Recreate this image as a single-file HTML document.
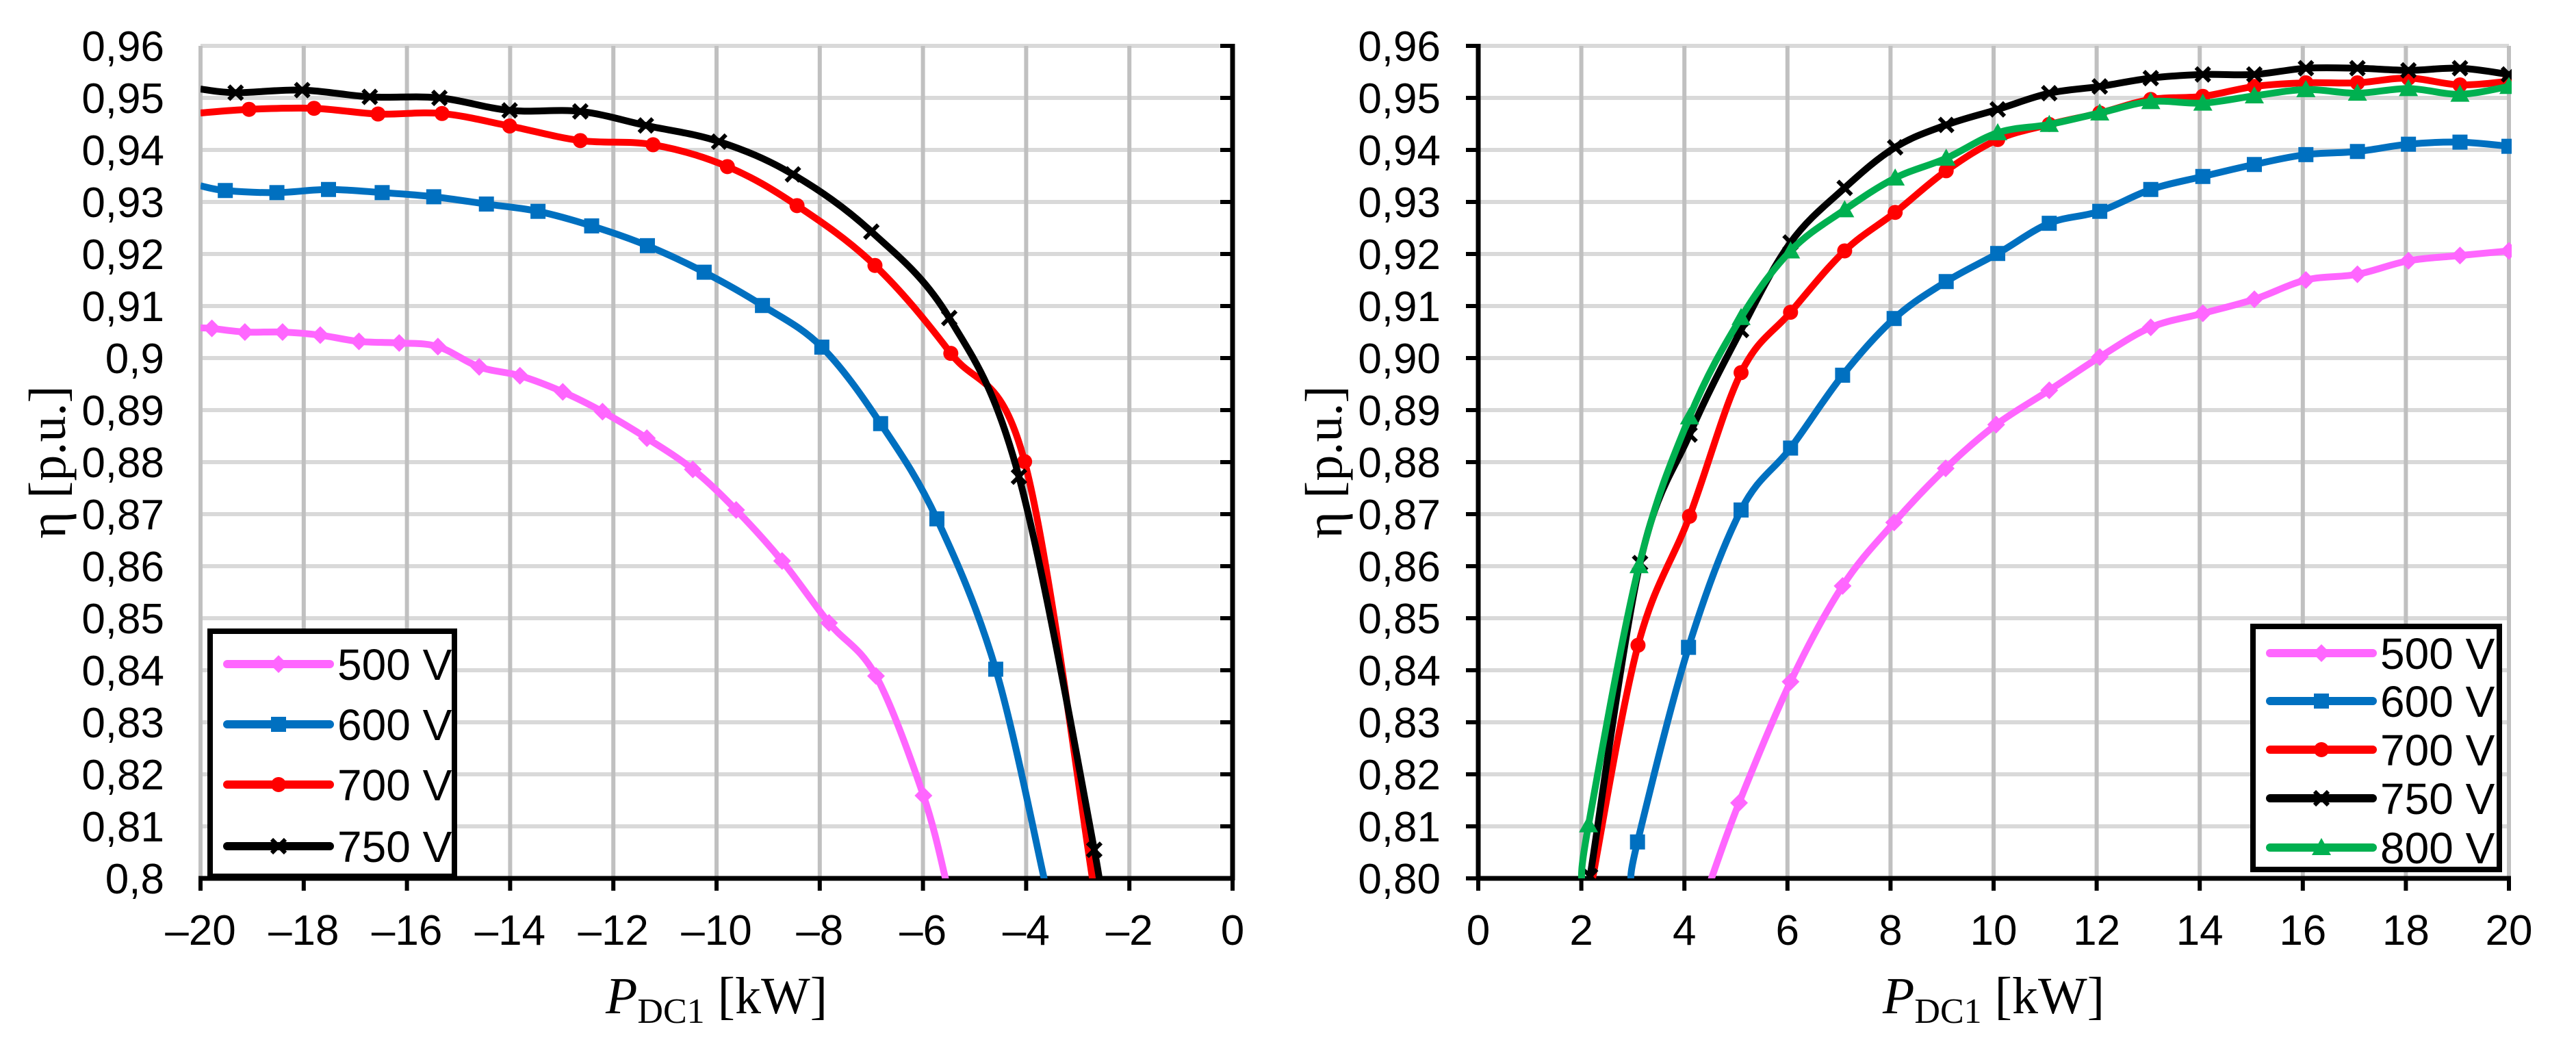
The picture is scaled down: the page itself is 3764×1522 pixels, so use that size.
<!DOCTYPE html>
<html><head><meta charset="utf-8"><style>
html,body{margin:0;padding:0;background:#fff;}
svg{display:block;}
</style></head><body>
<svg id="chart" width="3764" height="1522" viewBox="0 0 3764 1522" xmlns="http://www.w3.org/2000/svg">
<defs>
<clipPath id="clipL"><rect x="293" y="60" width="1508" height="1223"/></clipPath>
<clipPath id="clipR"><rect x="2160" y="60" width="1510" height="1223"/></clipPath>
</defs>
<g id="left"></g>
<g id="right"></g>
</svg>
<script>
// ---- data: left chart (reverse power) ----
const leftXTicks = [-20,-18,-16,-14,-12,-10,-8,-6,-4,-2,0];
const leftYTickLabels = ["0,96","0,95","0,94","0,93","0,92","0,91","0,9","0,89","0,88","0,87","0,86","0,85","0,84","0,83","0,82","0,81","0,8"];
const L500x = [-20,-19.78,-19.14,-18.41,-17.68,-16.93,-16.15,-15.40,-14.60,-13.81,-12.98,-12.21,-11.35,-10.46,-9.62,-8.73,-7.82,-6.91,-5.99,-5.54];
const L500y = [0.9058,0.9057,0.9050,0.9050,0.9044,0.9032,0.9029,0.9022,0.8983,0.8966,0.8935,0.8897,0.8846,0.8786,0.8708,0.8610,0.8491,0.8389,0.8159,0.799];
const L600x = [-20,-19.52,-18.52,-17.52,-16.48,-15.48,-14.46,-13.46,-12.42,-11.34,-10.24,-9.11,-7.96,-6.82,-5.73,-4.59,-3.63];
const L600y = [0.9331,0.9322,0.9318,0.9324,0.9318,0.9310,0.9296,0.9282,0.9254,0.9216,0.9165,0.9101,0.9021,0.8874,0.8691,0.8402,0.799];
const L700x = [-20,-19.06,-17.80,-16.56,-15.32,-14.01,-12.64,-11.23,-9.79,-8.44,-6.93,-5.46,-4.03,-2.70];
const L700y = [0.9471,0.9478,0.9480,0.9469,0.9470,0.9446,0.9418,0.9410,0.9368,0.9293,0.9178,0.9009,0.8801,0.799];
const L750x = [-20,-19.32,-18.03,-16.72,-15.37,-14.01,-12.64,-11.37,-9.95,-8.52,-7.0,-5.49,-4.14,-2.68,-2.64];
const L750y = [0.9517,0.9510,0.9515,0.9502,0.9500,0.9476,0.9474,0.9447,0.9416,0.9353,0.9243,0.9077,0.8772,0.8055,0.798];
// ---- data: right chart (forward power) ----
const rightXTicks = [0,2,4,6,8,10,12,14,16,18,20];
const rightYTickLabels = ["0,96","0,95","0,94","0,93","0,92","0,91","0,90","0,89","0,88","0,87","0,86","0,85","0,84","0,83","0,82","0,81","0,80"];
const R500x = [4.49,5.06,6.06,7.07,8.07,9.07,10.05,11.08,12.06,13.05,14.06,15.06,16.06,17.06,18.05,19.05,20];
const R500y = [0.799,0.8145,0.8378,0.8562,0.8684,0.8788,0.8872,0.8938,0.9002,0.9059,0.9086,0.9113,0.9150,0.9161,0.9187,0.9197,0.9206];
const R600x = [2.96,3.09,4.08,5.1,6.06,7.07,8.07,9.08,10.08,11.08,12.06,13.05,14.06,15.06,16.06,17.06,18.05,19.05,20];
const R600y = [0.799,0.8070,0.8444,0.8708,0.8827,0.8967,0.9076,0.9147,0.9201,0.9259,0.9282,0.9324,0.9349,0.9372,0.9391,0.9397,0.9411,0.9415,0.9407];
const R700x = [2.2,3.1,4.1,5.1,6.06,7.11,8.09,9.08,10.08,11.08,12.06,13.05,14.06,15.06,16.06,17.06,18.05,19.05,20];
const R700y = [0.799,0.8448,0.8696,0.8972,0.9088,0.9206,0.9280,0.9360,0.9420,0.9449,0.9471,0.9497,0.9503,0.9522,0.9529,0.9529,0.9538,0.9525,0.9532];
const R750x = [2.12,2.17,3.14,4.10,5.10,6.06,7.11,8.09,9.08,10.08,11.08,12.06,13.05,14.06,15.06,16.06,17.06,18.05,19.05,20];
const R750y = [0.799,0.8004,0.8606,0.8853,0.9054,0.9222,0.9327,0.9405,0.9448,0.9478,0.9509,0.9522,0.9538,0.9545,0.9545,0.9557,0.9557,0.9553,0.9557,0.9545];
const R800x = [2.0,2.14,3.12,4.1,5.1,6.06,7.11,8.09,9.08,10.08,11.08,12.06,13.05,14.06,15.06,16.06,17.06,18.05,19.05,20];
const R800y = [0.799,0.8103,0.8601,0.8887,0.9078,0.9206,0.9285,0.9346,0.9384,0.9433,0.9449,0.9471,0.9493,0.9490,0.9504,0.9516,0.9509,0.9518,0.9507,0.9522];

const NS = "http://www.w3.org/2000/svg";
const Y0 = 1283, Y1 = 67;
function yScale(v){ return Y0 - (v - 0.80) / 0.16 * (Y0 - Y1); }
function xL(v){ return 293 + (v + 20) / 20 * 1508; }
function xR(v){ return 2160 + v / 20 * 1506; }
function mk(tag, attrs, parent){
  const e = document.createElementNS(NS, tag);
  for (const k in attrs) e.setAttribute(k, attrs[k]);
  parent.appendChild(e);
  return e;
}
function smoothPath(pts){
  let d = "M" + pts[0][0] + "," + pts[0][1];
  for (let i = 0; i < pts.length - 1; i++){
    const p0 = pts[i-1] || pts[i], p1 = pts[i], p2 = pts[i+1], p3 = pts[i+2] || pts[i+1];
    const t = 0.17;
    const c1x = p1[0] + (p2[0]-p0[0])*t, c1y = p1[1] + (p2[1]-p0[1])*t;
    const c2x = p2[0] - (p3[0]-p1[0])*t, c2y = p2[1] - (p3[1]-p1[1])*t;
    d += " C" + c1x + "," + c1y + " " + c2x + "," + c2y + " " + p2[0] + "," + p2[1];
  }
  return d;
}
function marker(g, type, x, y, color){
  let e;
  if (type === "diamond"){
    e = mk("polygon", {points:(x)+","+(y-13)+" "+(x+13)+","+y+" "+x+","+(y+13)+" "+(x-13)+","+y, fill:color}, g);
  } else if (type === "square"){
    e = mk("rect", {x:x-11, y:y-11, width:22, height:22, fill:color}, g);
  } else if (type === "circle"){
    e = mk("circle", {cx:x, cy:y, r:11, fill:color}, g);
  } else if (type === "cross"){
    e = mk("path", {d:"M"+(x-10)+","+(y-10)+"L"+(x+10)+","+(y+10)+"M"+(x+10)+","+(y-10)+"L"+(x-10)+","+(y+10), stroke:color, "stroke-width":6, fill:"none"}, g);
  } else {
    e = mk("polygon", {points:x+","+(y-14)+" "+(x+14)+","+(y+11)+" "+(x-14)+","+(y+11), fill:color}, g);
  }
  
  
}
function drawSeries(parent, clip, xs, ys, xf, color, type, name, skipFirst){
  const g = mk("g", {"clip-path":"url(#"+clip+")"}, parent);
  
  
  const pts = xs.map((v,i)=>[xf(v), yScale(ys[i])]);
  const p = mk("path", {d:smoothPath(pts), stroke:color, "stroke-width":10, fill:"none", "stroke-linejoin":"round"}, g);
  
  
  pts.forEach((pt,i)=>{
    if (ys[i] <= 0.8001) return;
    if (skipFirst && i === 0) return;
    marker(g, type, pt[0], pt[1], color);
  });
}
function drawAxes(g, xf, xTicks, yLabels, left, right, isLeft){
  for (let i = 0; i < yLabels.length; i++){
    const y = yScale(0.96 - i*0.01);
    const l = mk("line", {x1:left, x2:right, y1:y, y2:y, stroke:"#D9D9D9", "stroke-width":6}, g);
    
    
  }
  xTicks.forEach(v=>{
    const x = xf(v);
    const l = mk("line", {x1:x, x2:x, y1:Y1, y2:Y0, stroke:"#C0C0C0", "stroke-width":6}, g);
    
    
  });
  const ax = isLeft ? right : left;
  const ya = mk("line", {x1:ax, x2:ax, y1:Y1-3, y2:Y0+3, stroke:"#000", "stroke-width":7}, g);
  
  
  for (let i = 0; i < yLabels.length; i++){
    const y = yScale(0.96 - i*0.01);
    const t = mk("line", {x1:ax-18, x2:ax, y1:y, y2:y, stroke:"#000", "stroke-width":6}, g);
    
    
    const lab = mk("text", {x: isLeft ? 240 : left-55, y:y+22, "text-anchor":"end", "font-size":62, "font-family":"Liberation Sans, Arial, sans-serif"}, g);
    lab.textContent = yLabels[i];
    
    
  }
  const xa = mk("line", {x1:left-3, x2:right+3, y1:Y0, y2:Y0, stroke:"#000", "stroke-width":7}, g);
  
  
  xTicks.forEach(v=>{
    const x = xf(v);
    const t = mk("line", {x1:x, x2:x, y1:Y0, y2:Y0+18, stroke:"#000", "stroke-width":6}, g);
    
    
    const lab = mk("text", {x:x, y:1380, "text-anchor":"middle", "font-size":62, "font-family":"Liberation Sans, Arial, sans-serif"}, g);
    lab.textContent = v < 0 ? "\u2013" + Math.abs(v) : String(v);
    
    
  });
  const cx = (left+right)/2;
  const xt = mk("text", {x:cx, y:1480, "text-anchor":"middle", "font-size":76, "font-family":"Liberation Serif, Times New Roman, serif"}, g);
  xt.innerHTML = '<tspan font-style="italic">P</tspan><tspan font-size="52" dy="14">DC1</tspan><tspan dy="-14"> [kW]</tspan>';
  
  
  const tx = isLeft ? 95 : 1960;
  const yt = mk("text", {x:tx, y:675, "text-anchor":"middle", "font-size":76, "font-family":"Liberation Serif, DejaVu Serif, serif", transform:"rotate(-90 "+tx+" 675)"}, g);
  yt.textContent = "\u03B7 [p.u.]";
  
  
}
function drawLegend(g, x, y, w, h, entries, rowY){
  const r = mk("rect", {x:x, y:y, width:w, height:h, fill:"#fff", stroke:"#000", "stroke-width":8}, g);
  
  
  entries.forEach((e,i)=>{
    const lg = mk("g", {}, g);
    
    
    const yy = rowY[i];
    mk("line", {x1:x+25, x2:x+175, y1:yy, y2:yy, stroke:e[1], "stroke-width":12, "stroke-linecap":"round"}, lg);
    marker(lg, e[2], x+100, yy, e[1]);
    const t = mk("text", {x:x+186, y:yy+23, "font-size":64, "font-family":"Liberation Sans, Arial, sans-serif"}, lg);
    t.textContent = e[0];
  });
}
const gl = document.getElementById("left"), gr = document.getElementById("right");
drawAxes(gl, xL, leftXTicks, leftYTickLabels, 293, 1801, true);
drawSeries(gl, "clipL", L500x, L500y, xL, "#FF66FF", "diamond", "series-500v", true);
drawSeries(gl, "clipL", L600x, L600y, xL, "#0070C0", "square", "series-600v", true);
drawSeries(gl, "clipL", L700x, L700y, xL, "#FF0000", "circle", "series-700v", true);
drawSeries(gl, "clipL", L750x, L750y, xL, "#000000", "cross", "series-750v", true);
drawLegend(gl, 307, 922, 357, 358, [["500 V","#FF66FF","diamond"],["600 V","#0070C0","square"],["700 V","#FF0000","circle"],["750 V","#000000","cross"]], [970,1058,1146,1236]);

drawAxes(gr, xR, rightXTicks, rightYTickLabels, 2160, 3666, false);
drawSeries(gr, "clipR", R500x, R500y, xR, "#FF66FF", "diamond", "series-500v", false);
drawSeries(gr, "clipR", R600x, R600y, xR, "#0070C0", "square", "series-600v", false);
drawSeries(gr, "clipR", R700x, R700y, xR, "#FF0000", "circle", "series-700v", false);
drawSeries(gr, "clipR", R750x, R750y, xR, "#000000", "cross", "series-750v", false);
drawSeries(gr, "clipR", R800x, R800y, xR, "#00B050", "triangle", "series-800v", false);
drawLegend(gr, 3292, 915, 360, 355, [["500 V","#FF66FF","diamond"],["600 V","#0070C0","square"],["700 V","#FF0000","circle"],["750 V","#000000","cross"],["800 V","#00B050","triangle"]], [954,1024,1095,1166,1238]);
</script>
</body></html>
